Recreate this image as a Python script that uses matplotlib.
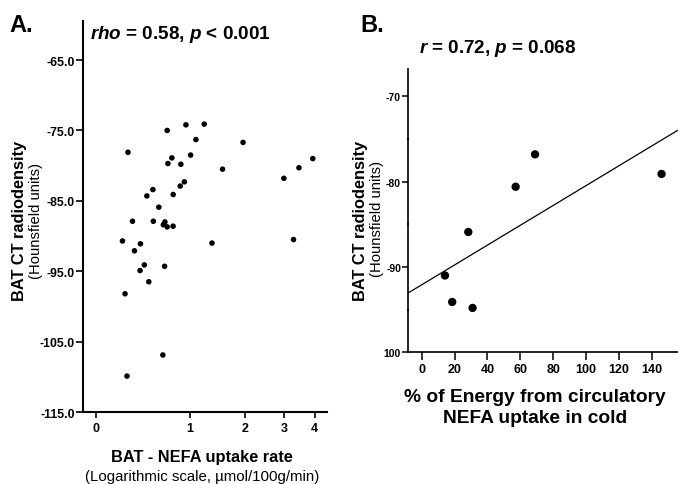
import numpy as np
import matplotlib
matplotlib.use('Agg')
import matplotlib.pyplot as plt
from matplotlib.ticker import FixedLocator, FormatStrFormatter

plt.rcParams['font.family'] = 'Liberation Sans'
plt.rcParams['mathtext.fontset'] = 'custom'
plt.rcParams['mathtext.it'] = 'Liberation Sans:bold:italic'
plt.rcParams['mathtext.rm'] = 'Liberation Sans:bold'

# Panel A: BAT NEFA uptake rate vs CT radiodensity
nefa_rate = [0.942, 1.222, 0.692, 1.090, 1.956, 0.268, 1.010, 0.751, 0.701, 0.871,
             1.542, 3.936, 3.458, 2.991, 0.920, 0.862, 0.523, 0.457, 0.768, 0.591,
             0.311, 0.528, 0.664, 0.645, 0.692, 0.767, 0.218, 0.390, 1.352, 3.284,
             0.330, 0.430, 0.386, 0.660, 0.478, 0.241, 0.639, 0.259]
radiodensity_a = [-74.2, -74.1, -75.0, -76.3, -76.7, -78.1, -78.5, -78.9, -79.7, -79.8,
                  -80.5, -79.0, -80.3, -81.8, -82.3, -82.9, -83.4, -84.3, -84.1, -85.9,
                  -87.9, -87.9, -88.0, -88.4, -88.7, -88.6, -90.7, -91.1, -91.0, -90.5,
                  -92.1, -94.1, -94.9, -94.3, -96.5, -98.2, -106.9, -109.9]
a_xticks = [0, 1, 2, 3, 4]
a_yticks = [-65, -75, -85, -95, -105, -115]

# Panel B: % energy from circulatory NEFA uptake vs CT radiodensity
energy_pct = [28.4, 57.2, 69.0, 146.0, 14.2, 18.6, 31.0]
radiodensity_b = [-85.9, -80.6, -76.8, -79.1, -91.0, -94.1, -94.8]
b_xticks = [0, 20, 40, 60, 80, 100, 120, 140]
b_yticks = [-70, -80, -90, -100]
b_yticklabels = ['-70', '-80', '-90', '100']
b_yminor = [-75, -85, -95]

W, H = 678, 485


def fx(px):
    return px / W


def fy(py):
    return 1 - py / H


def log1p2(x):
    return np.log2(np.clip(1 + np.asarray(x, dtype=float), 1e-9, None))


def inv_log1p2(u):
    return 2 ** np.asarray(u, dtype=float) - 1


fig = plt.figure(figsize=(6.78, 4.85), dpi=100)

# ---------------- Panel A ----------------
ax_a = fig.add_axes([fx(83), fy(413), fx(327 - 83), (413 - 22) / H])
ax_a.scatter(nefa_rate, radiodensity_a, s=16, c='black', edgecolors='none', zorder=3)
ax_a.set_xscale('function', functions=(log1p2, inv_log1p2))
ax_a.set_xlim(-0.089, 4.48)
ax_a.set_ylim(-115, -59.45)
ax_a.xaxis.set_major_locator(FixedLocator(a_xticks))
ax_a.xaxis.set_minor_locator(FixedLocator([]))
ax_a.set_xticklabels([str(t) for t in a_xticks])
ax_a.yaxis.set_major_locator(FixedLocator(a_yticks))
ax_a.yaxis.set_major_formatter(FormatStrFormatter('%.1f'))
for side in ['top', 'right']:
    ax_a.spines[side].set_visible(False)
for side in ['left', 'bottom']:
    ax_a.spines[side].set_linewidth(1.5)
ax_a.tick_params(axis='y', length=5, width=1.2, pad=1, labelsize=8.8)
ax_a.tick_params(axis='x', length=4.5, width=1.2, pad=3, labelsize=9)
for lab in ax_a.get_xticklabels() + ax_a.get_yticklabels():
    lab.set_fontweight('bold')

fig.text(fx(9), fy(32), 'A.', fontsize=17, fontweight='bold', va='baseline', ha='left')
fig.text(fx(90), fy(39), r'$rho$ = 0.58, $p$ < 0.001', fontsize=13.6,
         fontweight='bold', va='baseline', ha='left')
fig.text(fx(20), fy(221), 'BAT CT radiodensity', fontsize=11.8, fontweight='bold',
         rotation=90, va='center', ha='center')
fig.text(fx(36), fy(221), '(Hounsfield units)', fontsize=10.7,
         rotation=90, va='center', ha='center')
fig.text(fx(202), fy(458), 'BAT - NEFA uptake rate', fontsize=11.8, fontweight='bold',
         va='center', ha='center')
fig.text(fx(202), fy(477), '(Logarithmic scale, \u00b5mol/100g/min)', fontsize=10.8,
         va='center', ha='center')

# ---------------- Panel B ----------------
ax_b = fig.add_axes([fx(408), fy(353.3), fx(678 - 408), (353.3 - 70) / H])
ax_b.scatter(energy_pct, radiodensity_b, s=36, c='black', edgecolors='none', zorder=3)
slope, intercept = np.polyfit(energy_pct, radiodensity_b, 1)
xl = np.array([-8.3, 156])
ax_b.plot(xl, slope * xl + intercept, color='black', lw=0.9)
ax_b.set_xlim(-8.3, 156)
ax_b.set_ylim(-100, -66.8)
ax_b.set_xticks(b_xticks)
ax_b.set_xticklabels([str(t) for t in b_xticks])
ax_b.set_yticks(b_yticks)
ax_b.set_yticklabels(b_yticklabels)
ax_b.yaxis.set_minor_locator(FixedLocator(b_yminor))
for side in ['top', 'right']:
    ax_b.spines[side].set_visible(False)
for side in ['left', 'bottom']:
    ax_b.spines[side].set_linewidth(1.2)
ax_b.tick_params(axis='y', which='major', length=4, width=1.1, pad=1, labelsize=7.5)
ax_b.tick_params(axis='y', which='minor', length=1.5, width=1.5, direction='inout')
ax_b.tick_params(axis='x', length=5.5, width=1.1, pad=2, labelsize=9)
for lab in ax_b.get_xticklabels() + ax_b.get_yticklabels():
    lab.set_fontweight('bold')

fig.text(fx(360), fy(32), 'B.', fontsize=17, fontweight='bold', va='baseline', ha='left')
fig.text(fx(498), fy(53), r'$r$ = 0.72, $p$ = 0.068', fontsize=13.6,
         fontweight='bold', va='baseline', ha='center')
fig.text(fx(361), fy(221), 'BAT CT radiodensity', fontsize=11.8, fontweight='bold',
         rotation=90, va='center', ha='center')
fig.text(fx(377), fy(219), '(Hounsfield units)', fontsize=10.7,
         rotation=90, va='center', ha='center')
fig.text(fx(535), fy(408), '% of Energy from circulatory\nNEFA uptake in cold',
         fontsize=13.8, fontweight='bold', va='center', ha='center', linespacing=1.25)

fig.savefig('out.png', dpi=100)
